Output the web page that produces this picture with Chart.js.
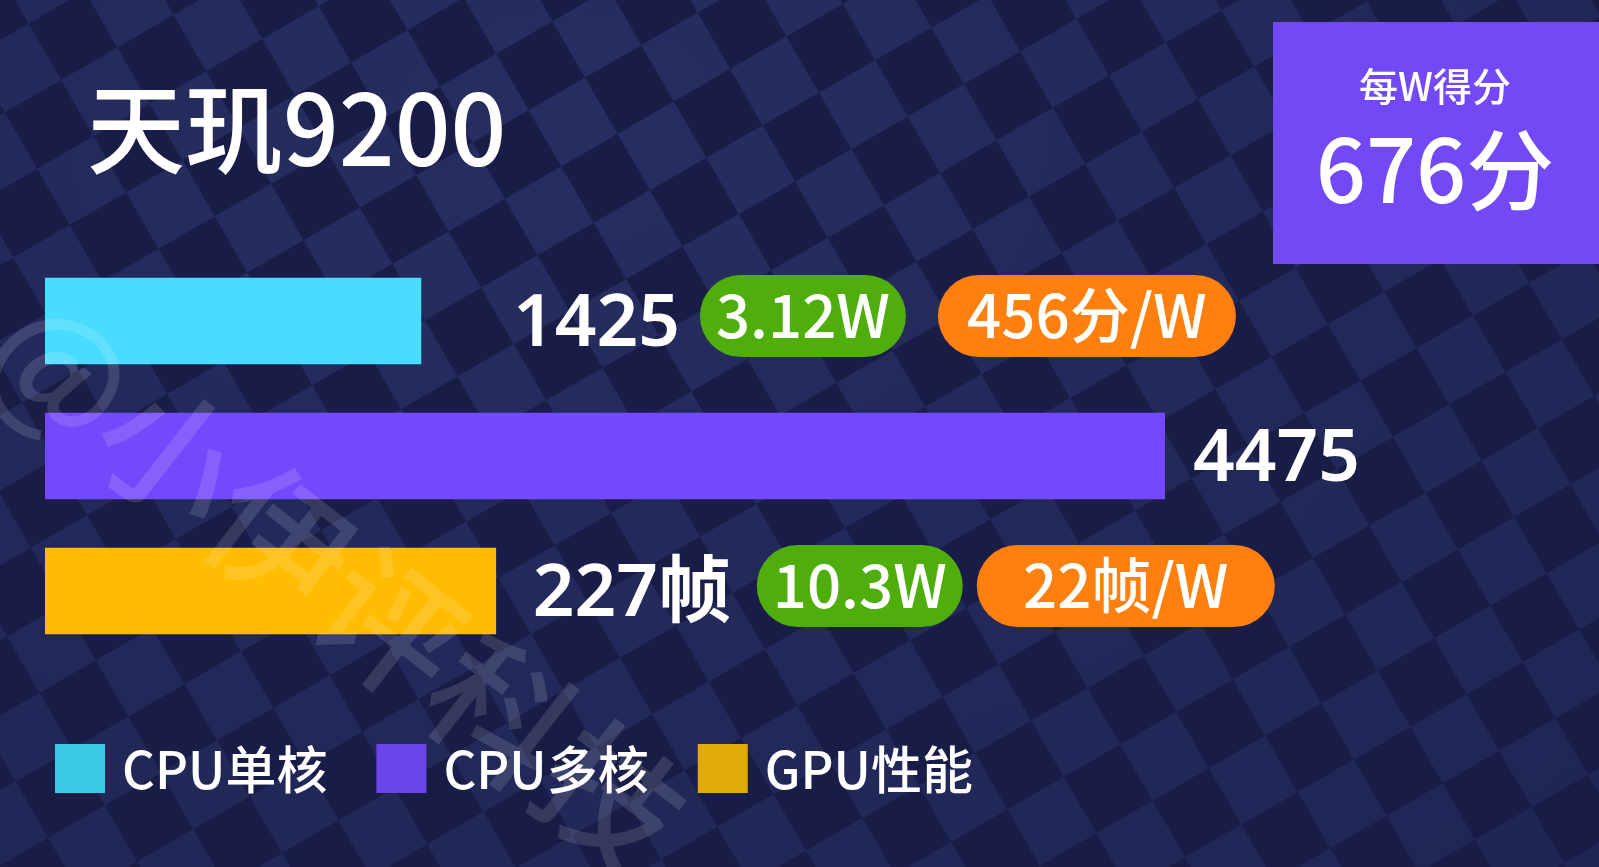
<!DOCTYPE html>
<html>
<head>
<meta charset="utf-8">
<title>天玑9200</title>
<script src="https://cdn.jsdelivr.net/npm/chart.js@4.4.0/dist/chart.umd.min.js"></script>
<style>
  html, body { margin: 0; padding: 0; }
  body { width: 1599px; height: 867px; overflow: hidden; position: relative; background: #1b1f4b; }
  #bg {
    position: absolute; left: -500px; top: -500px; width: 2600px; height: 1900px;
    background: repeating-conic-gradient(#283064 0 25%, #181c47 0 50%) 0 0 / 130px 130px;
    transform: rotate(-30deg);
  }
  #shade { position: absolute; left: 0; top: 0; width: 1599px; height: 867px;
    background: radial-gradient(ellipse at 35% 15%, rgba(27,31,75,0.15), rgba(24,28,70,0.55)); }
  canvas { position: absolute; left: 0; top: 0; }
</style>
</head>
<body>
<div id="bg"></div>
<div id="shade"></div>
<canvas id="myChart" width="1599" height="867"></canvas>
<script>
  // values
  var categories = ['CPU单核', 'CPU多核', 'GPU性能'];
  var scores = [1425, 4475, 227];
  var scoreUnits = ['', '', '帧'];
  var power = [3.12, null, 10.3];
  var efficiency = [456, null, 22];
  var efficiencyUnits = ['分/W', '', '帧/W'];
  var chipName = '天玑9200';
  var perWattTitle = '每W得分';
  var perWattScore = 676;

  var barColors = ['#4adcff', '#7449fb', '#ffbc00'];
  var legendColors = ['#3cc9e8', '#6945ea', '#e2a90b'];
  var FONT = '"Noto Sans CJK SC", "Noto Sans", sans-serif';
  var VALUE_FONT = '600 73px "Noto Sans", "Noto Sans CJK SC", sans-serif';

  // offsets from the bar end: value label, first pill, second pill
  var labelGap = [92, 28, 37];
  var pillOffset = [[279, 517], null, [261, 481]];
  var pillWidths = [206, 298];

  function pill(ctx, x, cy, w, h, color, text) {
    ctx.fillStyle = color;
    ctx.beginPath();
    ctx.roundRect(x, cy - h / 2, w, h, h / 2);
    ctx.fill();
    ctx.fillStyle = '#fff';
    ctx.textAlign = 'center';
    ctx.fillText(text, x + w / 2, cy + 22);
    ctx.textAlign = 'left';
  }

  var decorations = {
    id: 'decorations',
    afterDatasetsDraw: function(chart) {
      var ctx = chart.ctx;
      ctx.save();
      ctx.textBaseline = 'alphabetic';

      // title
      ctx.fillStyle = '#fff';
      ctx.font = '500 98px ' + FONT;
      ctx.fillText(chipName, 87, 166);

      // per watt box
      ctx.fillStyle = '#7348f5';
      ctx.fillRect(1273, 22, 326, 242);
      ctx.fillStyle = '#fff';
      ctx.textAlign = 'center';
      ctx.font = '500 39px ' + FONT;
      ctx.fillText(perWattTitle, 1435, 101);
      ctx.font = '500 88px ' + FONT;
      ctx.fillText(perWattScore + '分', 1435, 203);
      ctx.textAlign = 'left';

      // value labels and pills
      categories.forEach(function(c, i) {
        var bar = chart.getDatasetMeta(i).data[i];
        ctx.fillStyle = '#fff';
        ctx.font = VALUE_FONT;
        ctx.fillText(scores[i] + scoreUnits[i], bar.x + labelGap[i], bar.y + 25);
        if (power[i] !== null) {
          ctx.font = '500 60px ' + FONT;
          pill(ctx, bar.x + pillOffset[i][0], bar.y - 5, pillWidths[0], 82, '#4fae0c', power[i] + 'W');
          pill(ctx, bar.x + pillOffset[i][1], bar.y - 5, pillWidths[1], 82, '#ff7f0f', efficiency[i] + efficiencyUnits[i]);
        }
      });

      // legend
      ctx.font = '500 51px ' + FONT;
      var lx = 55;
      categories.forEach(function(c, i) {
        ctx.fillStyle = legendColors[i];
        ctx.fillRect(lx, 744, 50, 49);
        ctx.fillStyle = '#fff';
        ctx.fillText(c, lx + 67, 789);
        lx += 67 + ctx.measureText(c).width + 49;
      });

      // watermark
      ctx.translate(8, 326);
      ctx.rotate(38 * Math.PI / 180);
      ctx.fillStyle = 'rgba(255,255,255,0.13)';
      ctx.font = '500 140px ' + FONT;
      ctx.textBaseline = 'middle';
      ctx.fillText('@小伊评科技', 0, 0);
      ctx.restore();
    }
  };

  var ctx = document.getElementById('myChart').getContext('2d');
  var myChart = new Chart(ctx, {
    type: 'bar',
    data: {
      labels: categories,
      datasets: categories.map(function(name, i) {
        return {
          label: name,
          data: categories.map(function(_, j) { return j === i ? scores[i] : null; }),
          backgroundColor: barColors[i],
          xAxisID: i < 2 ? 'xCpu' : 'xGpu',
          base: i < 2 ? -116 : 0,
          grouped: false,
          barThickness: 86,
          borderWidth: 0
        };
      })
    },
    options: {
      indexAxis: 'y',
      responsive: false,
      animation: false,
      layout: { padding: { left: 45, right: 434, top: 253.5, bottom: 208.5 } },
      plugins: { legend: { display: false }, tooltip: { enabled: false } },
      scales: {
        y: { display: false },
        xCpu: { type: 'linear', display: false, min: -116, max: 4475 },
        xGpu: { type: 'linear', display: false, min: 0, max: 564 }
      }
    },
    plugins: [decorations]
  });
</script>
</body>
</html>
